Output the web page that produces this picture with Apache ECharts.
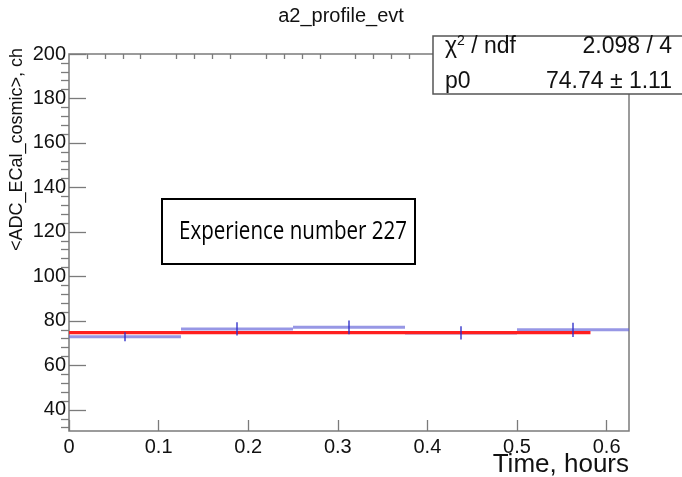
<!DOCTYPE html>
<html>
<head>
<meta charset="utf-8">
<script src="https://cdn.jsdelivr.net/npm/echarts@6/dist/echarts.min.js"></script>
<style>
  html, body { margin: 0; padding: 0; background: #fff; }
  #chart { width: 682px; height: 477px; }
</style>
</head>
<body>
<div id="chart"></div>
<script>
// Profile histogram: mean ADC per time bin, with error on the mean
const binEdges = [0, 0.125, 0.25, 0.375, 0.5, 0.625];
const binCenters = [0.0625, 0.1875, 0.3125, 0.4375, 0.5625];
const binMeans = [72.9, 76.4, 77.1, 74.6, 76.0];
const binErrors = [2.0, 3.0, 3.1, 3.0, 3.2];

// Constant fit (pol0) result
const fitP0 = 74.74;
const fitP0Err = 1.11;
const fitRange = [0, 0.582];
const fitChi2 = 2.098;
const fitNdf = 4;

// Axis ticks
const xMajorTicks = [0, 0.1, 0.2, 0.3, 0.4, 0.5, 0.6];
const xMinorTicks = [0.02,0.04,0.06,0.08,0.12,0.14,0.16,0.18,0.22,0.24,0.26,0.28,0.32,0.34,0.36,0.38,0.42,0.44,0.46,0.48,0.52,0.54,0.56,0.58,0.62];
const yMajorTicks = [40, 60, 80, 100, 120, 140, 160, 180, 200];
const yMinorTicks = [32,36,44,48,52,56,64,68,72,76,84,88,92,96,104,108,112,116,124,128,132,136,144,148,152,156,164,168,172,176,184,188,192,196];

const xRange = [0, 0.625];
const yRange = [30.5, 200];

const FONT = '"Liberation Sans", Arial, sans-serif';
const AXIS_GRAY = '#7b7b7b';

const chart = echarts.init(document.getElementById('chart'), null, { renderer: 'canvas' });

function xAxisDef(ticks, len, labels) {
  return {
    type: 'value', min: xRange[0], max: xRange[1],
    axisLine: { show: false },
    splitLine: { show: false },
    axisTick: { show: true, inside: true, length: len, customValues: ticks,
                lineStyle: { color: AXIS_GRAY, width: 1.3 } },
    axisLabel: labels ? {
      show: true, customValues: ticks, margin: 6,
      fontFamily: FONT, fontSize: 20, color: '#111',
      formatter: v => (Math.round(v * 10) / 10).toString()
    } : { show: false }
  };
}
function yAxisDef(ticks, len, labels) {
  return {
    type: 'value', min: yRange[0], max: yRange[1],
    axisLine: { show: false },
    splitLine: { show: false },
    axisTick: { show: true, inside: true, length: len, customValues: ticks,
                lineStyle: { color: AXIS_GRAY, width: 1.3 } },
    axisLabel: labels ? {
      show: true, customValues: ticks, margin: 3,
      fontFamily: FONT, fontSize: 20, color: '#111'
    } : { show: false }
  };
}

// bin contents as horizontal segments
const binSegments = binCenters.map((c, i) => [binEdges[i], binEdges[i + 1], binMeans[i]]);
const errorBars = binCenters.map((c, i) => [c, binMeans[i] - binErrors[i], binMeans[i] + binErrors[i]]);

const option = {
  animation: false,
  backgroundColor: '#fff',
  grid: {
    left: 69, top: 54, right: 53, bottom: 46,
    show: true, borderColor: AXIS_GRAY, borderWidth: 1.5, backgroundColor: 'transparent'
  },
  xAxis: [xAxisDef(xMajorTicks, 11, true), xAxisDef(xMinorTicks, 5, false)],
  yAxis: [yAxisDef(yMajorTicks, 17, true), yAxisDef(yMinorTicks, 8, false)],
  series: [
    {
      name: 'bins', type: 'custom', z: 2,
      data: binSegments,
      renderItem: (params, api) => {
        const p1 = api.coord([api.value(0), api.value(2)]);
        const p2 = api.coord([api.value(1), api.value(2)]);
        return { type: 'line', shape: { x1: p1[0], y1: p1[1], x2: p2[0], y2: p2[1] },
                 style: { stroke: 'rgba(95,95,215,0.65)', lineWidth: 3 } };
      }
    },
    {
      name: 'fit', type: 'line', z: 3, symbol: 'none',
      data: [[fitRange[0], fitP0], [fitRange[1], fitP0]],
      lineStyle: { color: '#ff1f1f', width: 3.2 }
    },
    {
      name: 'errors', type: 'custom', z: 4,
      data: errorBars,
      renderItem: (params, api) => {
        const p1 = api.coord([api.value(0), api.value(1)]);
        const p2 = api.coord([api.value(0), api.value(2)]);
        return { type: 'line', shape: { x1: p1[0], y1: p1[1], x2: p2[0], y2: p2[1] },
                 style: { stroke: 'rgba(45,45,200,0.9)', lineWidth: 1.5 } };
      }
    }
  ],
  graphic: [
    { type: 'text', x: 341, y: 16,
      style: { text: 'a2_profile_evt', fontFamily: FONT, fontSize: 20, fill: '#111',
               align: 'center', verticalAlign: 'middle' } },
    { type: 'text', x: 17, y: 48, rotation: Math.PI / 2,
      style: { text: '<ADC_ECal_cosmic>, ch', fontFamily: FONT, fontSize: 18, fill: '#111',
               align: 'right', verticalAlign: 'middle' } },
    { type: 'text', x: 629, y: 465,
      style: { text: 'Time, hours', fontFamily: FONT, fontSize: 26, fill: '#111',
               align: 'right', verticalAlign: 'middle' } },
    // fit statistics box
    { type: 'rect', shape: { x: 433, y: 36, width: 260, height: 58 }, z: 100,
      style: { fill: '#fff', stroke: '#555', lineWidth: 1.5 } },
    { type: 'text', x: 445, y: 47, z: 101,
      style: { text: '{a|χ}{s|2}{a| / ndf}', verticalAlign: 'middle',
               rich: { a: { fontFamily: FONT, fontSize: 23, fill: '#111' },
                       s: { fontFamily: FONT, fontSize: 14, fill: '#111', verticalAlign: 'top', padding: [0, 0, 12, 0] } } } },
    { type: 'text', x: 672, y: 47, z: 101,
      style: { text: fitChi2.toFixed(3) + ' / ' + fitNdf, fontFamily: FONT, fontSize: 23, fill: '#111',
               align: 'right', verticalAlign: 'middle' } },
    { type: 'text', x: 445, y: 82, z: 101,
      style: { text: 'p0', fontFamily: FONT, fontSize: 23, fill: '#111', verticalAlign: 'middle' } },
    { type: 'text', x: 672, y: 82, z: 101,
      style: { text: fitP0.toFixed(2) + ' ± ' + fitP0Err.toFixed(2), fontFamily: FONT, fontSize: 23, fill: '#111',
               align: 'right', verticalAlign: 'middle' } },
    // annotation box
    { type: 'rect', shape: { x: 162, y: 199, width: 253, height: 65 }, z: 100,
      style: { fill: '#fff', stroke: '#000', lineWidth: 2 } },
    { type: 'text', x: 179, y: 232, z: 101, scaleX: 0.79,
      style: { text: 'Experience number 227', fontFamily: '"Open Sans", Lato, sans-serif', fontSize: 26, fill: '#000',
               verticalAlign: 'middle' } }
  ]
};

chart.setOption(option);
</script>
</body>
</html>
